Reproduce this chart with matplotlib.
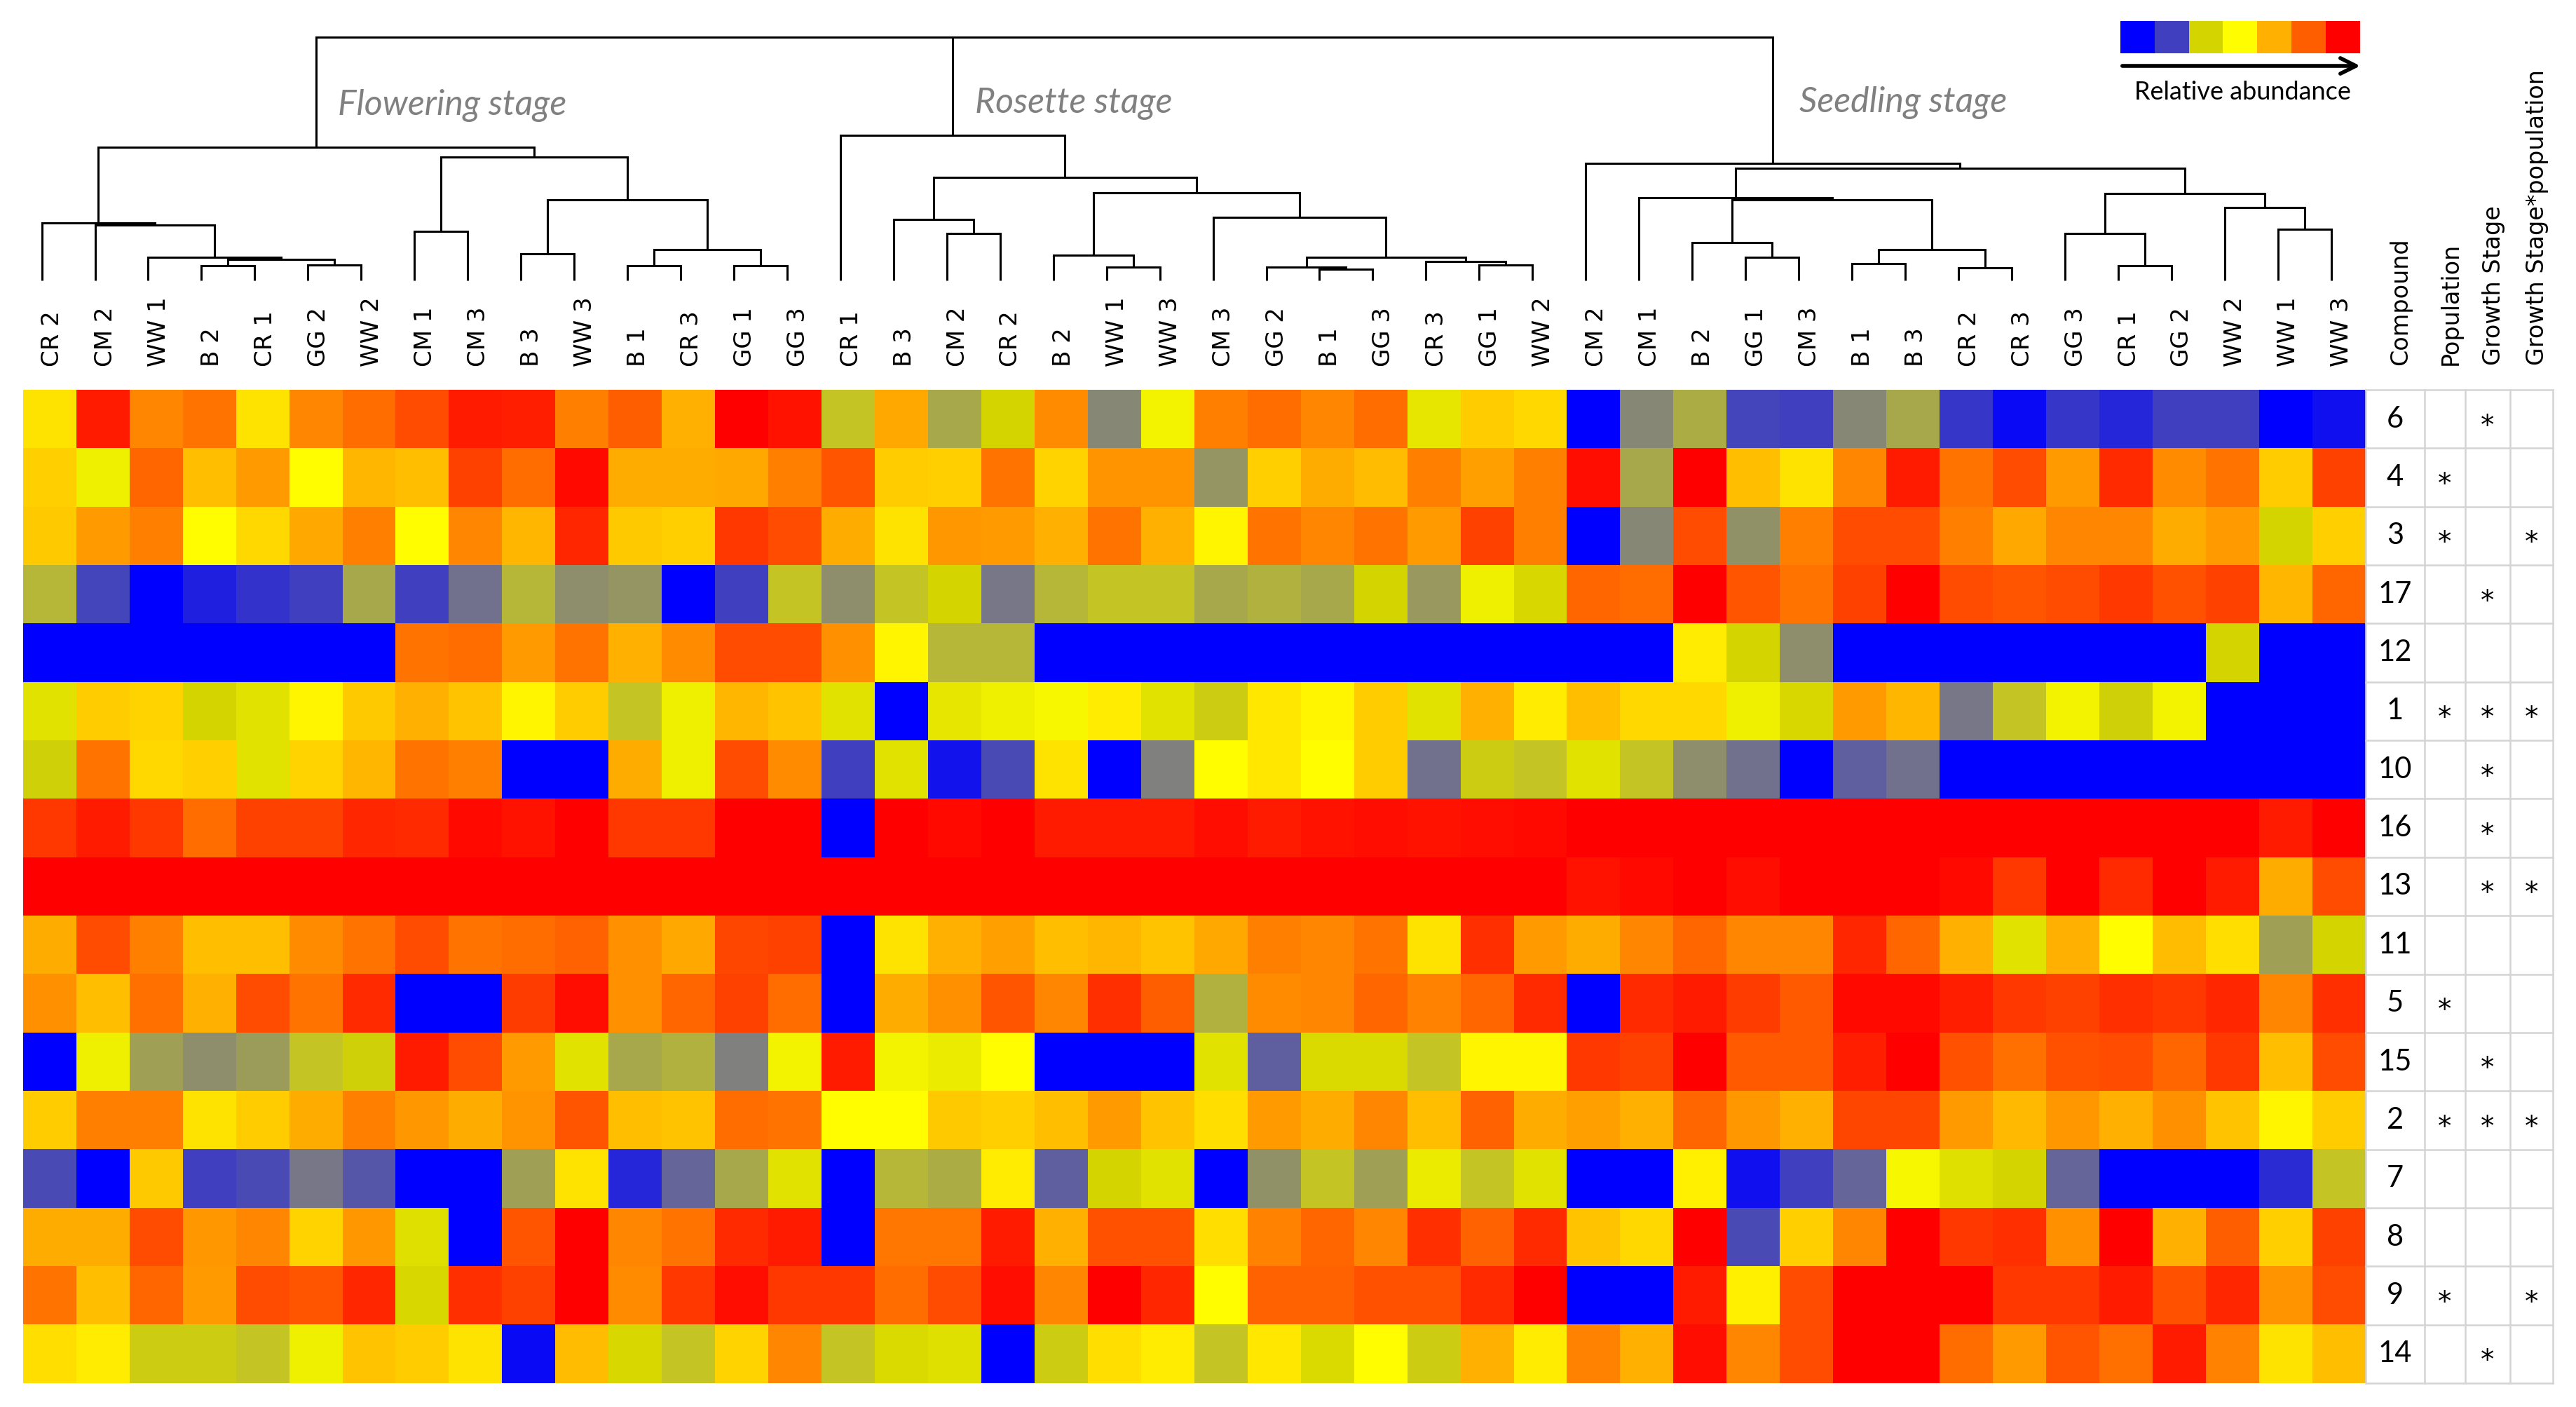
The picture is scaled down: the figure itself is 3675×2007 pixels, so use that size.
import numpy as np
import matplotlib
matplotlib.use("Agg")
import matplotlib.pyplot as plt
from matplotlib.colors import LinearSegmentedColormap
from matplotlib.transforms import blended_transform_factory

# ---------------- data ----------------
col_labels = ["CR 2", "CM 2", "WW 1", "B 2", "CR 1", "GG 2", "WW 2", "CM 1", "CM 3", "B 3", "WW 3", "B 1", "CR 3", "GG 1", "GG 3",
              "CR 1", "B 3", "CM 2", "CR 2", "B 2", "WW 1", "WW 3", "CM 3", "GG 2", "B 1", "GG 3", "CR 3", "GG 1", "WW 2",
              "CM 2", "CM 1", "B 2", "GG 1", "CM 3", "B 1", "B 3", "CR 2", "CR 3", "GG 3", "CR 1", "GG 2", "WW 2", "WW 1", "WW 3"]
stage_names = ["Flowering stage", "Rosette stage", "Seedling stage"]
compounds = ["6", "4", "3", "17", "12", "1", "10", "16", "13", "11", "5", "15", "2", "7", "8", "9", "14"]
table_headers = ["Compound", "Population", "Growth Stage", "Growth Stage*population"]
sig_population = [0, 1, 1, 0, 0, 1, 0, 0, 0, 0, 1, 0, 1, 0, 0, 1, 0]
sig_stage      = [1, 0, 0, 1, 0, 1, 1, 1, 1, 0, 0, 1, 1, 0, 0, 0, 1]
sig_interact   = [0, 0, 1, 0, 0, 1, 0, 0, 1, 0, 0, 0, 1, 0, 0, 1, 0]

# relative abundance score (0 = lowest ... 6 = highest), rows follow `compounds`
flowering = [
    [3.3, 5.7, 4.5, 4.75, 3.3, 4.5, 4.85, 5.2, 5.7, 5.65, 4.6, 5.0, 4.0, 6.0, 5.8],
    [3.5, 2.6, 4.9, 3.75, 4.25, 3.0, 3.9, 3.75, 5.3, 4.85, 5.9, 4.05, 4.05, 4.1, 4.6],
    [3.6, 4.25, 4.6, 3.0, 3.4, 4.1, 4.6, 3.0, 4.5, 3.9, 5.6, 3.6, 3.5, 5.4, 5.2],
    [1.85, 1.05, 0, 0.5, 0.8, 1.0, 1.78, 1.0, 1.4, 1.85, 1.6, 1.65, 0, 1.0, 1.92],
    [0, 0, 0, 0, 0, 0, 0, 4.75, 4.85, 4.25, 4.75, 4.0, 4.45, 5.2, 5.2],
    [2.3, 3.55, 3.45, 2.0, 2.3, 3.1, 3.6, 4.0, 3.7, 3.1, 3.55, 1.92, 2.6, 3.9, 3.7],
    [1.97, 4.75, 3.4, 3.5, 2.3, 3.45, 3.9, 4.75, 4.6, 0, 0, 4.05, 2.6, 5.2, 4.45],
    [5.4, 5.7, 5.4, 4.85, 5.3, 5.3, 5.6, 5.55, 5.9, 5.8, 6, 5.4, 5.4, 6, 6],
    [6, 6, 6, 6, 6, 6, 6, 6, 6, 6, 6, 6, 6, 6, 6],
    [4.05, 5.2, 4.6, 3.75, 3.75, 4.45, 4.75, 5.2, 4.75, 4.85, 4.95, 4.4, 4.1, 5.25, 5.3],
    [4.4, 3.75, 4.8, 4.0, 5.2, 4.75, 5.55, 0, 0, 5.35, 5.85, 4.4, 4.9, 5.3, 4.85],
    [0, 2.6, 1.72, 1.6, 1.7, 1.9, 1.97, 5.7, 5.2, 4.25, 2.3, 1.78, 1.82, 1.5, 2.7],
    [3.55, 4.6, 4.6, 3.3, 3.55, 4.05, 4.6, 4.3, 4.05, 4.35, 5.1, 3.75, 3.7, 4.85, 4.75],
    [1.1, 0, 3.6, 1.0, 1.08, 1.45, 1.18, 0, 0, 1.72, 3.3, 0.6, 1.3, 1.78, 2.3],
    [4.05, 4.05, 5.2, 4.3, 4.5, 3.45, 4.3, 2.25, 0, 5.1, 6, 4.5, 4.75, 5.55, 5.7],
    [4.75, 3.75, 4.9, 4.25, 5.2, 5.1, 5.6, 2.1, 5.5, 5.3, 6, 4.45, 5.4, 5.85, 5.4],
    [3.35, 3.2, 1.95, 1.95, 1.9, 2.6, 3.7, 3.55, 3.3, 0.15, 3.8, 2.1, 1.9, 3.45, 4.5],
]
rosette = [
    [1.9, 4.1, 1.78, 2.0, 4.45, 1.55, 2.7, 4.6, 4.85, 4.5, 4.85, 2.4, 3.55, 3.4],
    [5.1, 3.55, 3.5, 4.75, 3.45, 4.35, 4.35, 1.65, 3.5, 4.05, 3.8, 4.6, 4.2, 4.6],
    [4.05, 3.3, 4.3, 4.25, 4.0, 4.75, 4.0, 3.1, 4.75, 4.5, 4.75, 4.25, 5.3, 4.6],
    [1.6, 1.9, 2.0, 1.45, 1.85, 1.9, 1.9, 1.78, 1.82, 1.78, 2.0, 1.68, 2.6, 2.1],
    [4.4, 3.1, 1.85, 1.85, 0, 0, 0, 0, 0, 0, 0, 0, 0, 0],
    [2.3, 0, 2.4, 2.6, 2.8, 3.2, 2.3, 1.95, 3.25, 3.1, 3.55, 2.3, 4.0, 3.2],
    [1.0, 2.3, 0.3, 1.1, 3.3, 0, 1.5, 3.0, 3.25, 3.0, 3.55, 1.4, 1.95, 1.9],
    [0, 6, 5.9, 6, 5.7, 5.7, 5.7, 5.85, 5.7, 5.8, 5.85, 5.8, 5.85, 5.9],
    [6, 6, 6, 6, 6, 6, 6, 6, 6, 6, 6, 6, 6, 6],
    [0, 3.3, 4.0, 4.2, 3.75, 3.9, 3.7, 4.1, 4.6, 4.5, 4.75, 3.3, 5.5, 4.25],
    [0, 4.05, 4.4, 5.1, 4.5, 5.5, 5.0, 1.82, 4.45, 4.5, 4.9, 4.55, 4.9, 5.55],
    [5.7, 2.7, 2.5, 3.0, 0, 0, 0, 2.3, 1.25, 2.15, 2.15, 1.9, 3.1, 3.1],
    [3.0, 3.0, 3.6, 3.5, 3.75, 4.25, 3.7, 3.35, 4.25, 4.05, 4.5, 3.75, 4.95, 4.05],
    [0, 1.85, 1.8, 3.2, 1.25, 2.0, 2.3, 0, 1.62, 1.9, 1.72, 2.5, 1.9, 2.3],
    [0, 4.7, 4.7, 5.7, 4.0, 5.15, 5.15, 3.35, 4.55, 4.9, 4.5, 5.5, 4.95, 5.55],
    [5.4, 4.85, 5.2, 5.85, 4.5, 6, 5.6, 3.0, 4.95, 4.95, 5.15, 5.15, 5.55, 6],
    [1.9, 2.15, 2.25, 0, 1.95, 3.35, 3.2, 1.9, 3.25, 2.15, 3.0, 1.95, 4.0, 3.2],
]
seedling = [
    [0, 1.55, 1.8, 1.05, 1.0, 1.55, 1.78, 0.85, 0.15, 0.85, 0.6, 1.0, 1.0, 0, 0.25],
    [5.85, 1.78, 6.0, 3.75, 3.3, 4.5, 5.7, 4.75, 5.2, 4.25, 5.55, 4.45, 4.75, 3.55, 5.3],
    [0, 1.55, 5.2, 1.62, 4.6, 5.2, 5.2, 4.6, 4.1, 4.5, 4.5, 4.05, 4.25, 2.0, 3.5],
    [4.9, 4.85, 6.0, 5.1, 4.75, 5.3, 6.0, 5.2, 5.1, 5.2, 5.4, 5.15, 5.3, 3.9, 4.9],
    [0, 0, 3.2, 2.0, 1.6, 0, 0, 0, 0, 0, 0, 0, 2.0, 0, 0],
    [3.75, 3.4, 3.4, 2.6, 2.1, 4.25, 3.9, 1.45, 1.92, 2.7, 1.97, 2.7, 0, 0, 0],
    [2.3, 1.92, 1.6, 1.4, 0, 1.25, 1.4, 0, 0, 0, 0, 0, 0, 0, 0],
    [6, 6, 6, 6, 6, 6, 6, 6, 6, 6, 6, 6, 6, 5.7, 6],
    [5.8, 5.9, 6, 5.85, 6, 6, 6, 5.9, 5.4, 6, 5.55, 6, 5.7, 4.05, 5.2],
    [4.05, 4.5, 4.9, 4.5, 4.5, 5.6, 4.9, 4.0, 2.3, 4.0, 3.0, 3.8, 3.35, 1.72, 2.0],
    [0, 5.55, 5.7, 5.35, 5.05, 5.9, 5.9, 5.65, 5.4, 5.3, 5.5, 5.4, 5.6, 4.5, 5.5],
    [5.4, 5.3, 6, 5.05, 5.05, 5.65, 6, 5.15, 4.8, 5.15, 5.2, 4.9, 5.4, 3.75, 5.2],
    [4.2, 4.0, 4.9, 4.3, 4.0, 5.25, 5.25, 4.25, 3.85, 4.3, 4.0, 4.4, 3.7, 3.1, 3.55],
    [0, 0, 3.15, 0.25, 1.0, 1.3, 2.8, 2.25, 2.0, 1.3, 0, 0, 0, 0.7, 1.9],
    [3.7, 3.4, 6, 1.1, 3.5, 4.5, 6, 5.4, 5.5, 4.4, 6, 4.0, 5.0, 3.5, 5.3],
    [0, 0, 5.7, 3.15, 5.2, 6, 6, 6, 5.4, 5.4, 5.7, 5.15, 5.6, 4.35, 5.2],
    [4.55, 4.0, 5.85, 4.5, 5.2, 6, 6, 4.85, 4.25, 5.1, 4.8, 5.7, 4.55, 3.3, 3.75],
]

# dendrogram: (merge height, [children]); integers are column indices
tree_flowering = (190.0, [(82.1, [0, (78.6, [1, (33.2, [2, (30.4, [(21.4, [3, 4]), (22.1, [5, 6])])])])]),
                          (175.7, [(69.6, [7, 8]),
                                   (115.4, [(38.2, [9, 10]), (44.0, [(21.4, [11, 12]), (21.4, [13, 14])])])])])
tree_rosette = (207.1, [15, (147.5, [(86.8, [16, (67.1, [17, 18])]),
                                     (125.0, [(35.7, [19, (18.6, [20, 21])]),
                                              (90.4, [22, (33.2, [(18.6, [23, (16.1, [24, 25])]),
                                                                  (27.5, [26, (22.1, [27, 28])])])])])])])
tree_seedling = (167.1, [29, (160.0, [(117.9, [30, (115.4, [(53.6, [31, (32.9, [32, 33])]),
                                                            (43.9, [(23.9, [34, 35]), (17.9, [36, 37])])])]),
                                      (124.3, [(67.1, [38, (21.4, [39, 40])]),
                                               (104.3, [41, (73.2, [42, 43])])])])])
tree_top = (347.1, [tree_flowering, tree_rosette, tree_seedling])

values = np.hstack([np.array(flowering), np.array(rosette), np.array(seedling)])
n_rows, n_cols = values.shape

# ---------------- style ----------------
cmap = LinearSegmentedColormap.from_list("abund", [
    (0 / 6, "#0000ff"), (1 / 6, "#4040c0"), (1.5 / 6, "#808080"), (1.75 / 6, "#a4a450"),
    (1.9 / 6, "#c4c428"), (2.0 / 6, "#d4d400"), (2.6 / 6, "#f0f000"), (3.0 / 6, "#ffff00"),
    (3.5 / 6, "#ffd000"), (4.0 / 6, "#ffb000"), (5.0 / 6, "#ff6000"), (6 / 6, "#ff0000")])

W, H = 3675, 2007
fig = plt.figure(figsize=(W / 100, H / 100), dpi=100)
fig.patch.set_facecolor("white")


def box(x0, y0, x1, y1):
    return [x0 / W, 1 - y1 / H, (x1 - x0) / W, (y1 - y0) / H]


lato = ["Lato", "DejaVu Sans"]

# heatmap
ax = fig.add_axes(box(33, 556, 3375, 1973))
ax.imshow(values, cmap=cmap, vmin=0, vmax=6, aspect="auto", interpolation="nearest",
          extent=(0, n_cols, n_rows, 0))
ax.set_xlim(0, n_cols)
ax.set_ylim(n_rows, 0)
ax.axis("off")

# column labels
tr = blended_transform_factory(ax.transData, fig.transFigure)
for i, lab in enumerate(col_labels):
    ax.text(i + 0.55, 1 - 523 / H, lab, rotation=90, rotation_mode="anchor", ha="left", va="center",
            fontsize=24.5, family="DejaVu Sans", transform=tr, color="black")

# dendrogram
axd = fig.add_axes(box(33, 53, 3375, 400))
axd.set_xlim(0, n_cols)
axd.set_ylim(0, tree_top[0])
axd.axis("off")
leaf_shift = -0.15


def draw(node):
    if isinstance(node, int):
        return node + 0.5 + leaf_shift, 0.0
    h, children = node
    pts = [draw(c) for c in children]
    xs = [p[0] for p in pts]
    for x, ch in pts:
        axd.plot([x, x], [ch, h], color="black", lw=2.2, solid_capstyle="butt", clip_on=False)
    axd.plot([min(xs), max(xs)], [h, h], color="black", lw=2.2, solid_capstyle="projecting", clip_on=False)
    return (min(xs) + max(xs)) / 2, h


draw(tree_top)

# stage labels
for name, (x0, y0) in zip(stage_names, [(482, 150), (1391, 148), (2567, 146)]):
    fig.text(x0 / W, 1 - y0 / H, name, ha="left", va="center", fontsize=36, style="italic",
             family=lato, color="#808080")

# significance table
axt = fig.add_axes(box(3375, 556, 3642, 1973))
col_edges = [0, 84, 142, 206, 267]
axt.set_xlim(0, col_edges[-1])
axt.set_ylim(n_rows, 0)
axt.axis("off")
grid_c = "#d4d4d4"
for xe in col_edges:
    axt.plot([xe, xe], [0, n_rows], color=grid_c, lw=1.8, clip_on=False)
for r in range(n_rows + 1):
    axt.plot([0, col_edges[-1]], [r, r], color=grid_c, lw=1.8, clip_on=False)
centers = [(col_edges[k] + col_edges[k + 1]) / 2 for k in range(4)]
for r, comp in enumerate(compounds):
    axt.text(centers[0], r + 0.5, comp, ha="center", va="center", fontsize=30, family=lato, color="black")
    for k, sig in enumerate([sig_population, sig_stage, sig_interact]):
        if sig[r]:
            axt.text(centers[k + 1], r + 0.75, "*", ha="center", va="baseline", fontsize=28,
                     family="DejaVu Sans", color="black")
trt = blended_transform_factory(axt.transData, fig.transFigure)
for k, hdr in enumerate(table_headers):
    axt.text(centers[k] + 8, 1 - 521 / H, hdr, rotation=90, rotation_mode="anchor", ha="left", va="center",
             fontsize=24, family="DejaVu Sans", transform=trt, color="black")

# colour legend
axl = fig.add_axes(box(3025, 30, 3367, 76))
axl.imshow(np.arange(7)[None, :], cmap=cmap, vmin=0, vmax=6, aspect="auto", interpolation="nearest")
axl.axis("off")
fig.add_artist(matplotlib.patches.FancyArrowPatch((3025 / W, 1 - 94 / H), (3370 / W, 1 - 94 / H),
                                                  transform=fig.transFigure, arrowstyle="->",
                                                  mutation_scale=40, lw=4, color="black"))
fig.text(3199 / W, 1 - 132 / H, "Relative abundance", ha="center", va="center", fontsize=26,
         family=lato, color="black")

fig.savefig("out.png", dpi=100, facecolor="white")
